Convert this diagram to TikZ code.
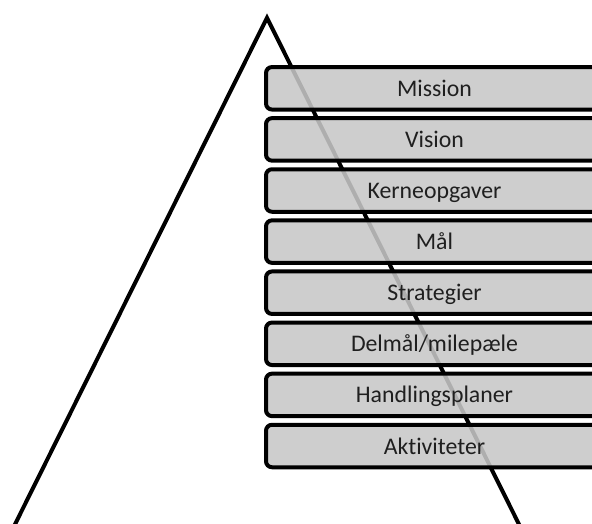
\documentclass[tikz,border=0pt]{standalone}
\usepackage{fontspec}
\setmainfont{Carlito}[Ligatures=NoCommon]
\begin{document}
\begin{tikzpicture}[x=1pt,y=-1pt,
  layer/.style={draw=black, line width=4pt, fill=black!22, fill opacity=0.88, text opacity=1,
    rounded corners=6pt, minimum width=337pt, minimum height=42.5pt, inner sep=0pt,
    text=black!88, font=\fontsize{23.8}{28}\selectfont, text height=21pt, text depth=5pt},
  side/.style={line width=4pt, line join=miter}]
\useasboundingbox (0,0) rectangle (592,523);
\clip (0,0) rectangle (592,523);
\coordinate (apex) at (267,17.8);
\coordinate (bl) at (7.2,540);
\coordinate (br) at (526.8,540);
\draw[side] (bl) -- (apex) -- (br);
\foreach \name/\txt [count=\i from 0] in {mission/Mission, vision/Vision, kerne/Kerneopgaver, maal/Mål, strat/Strategier, delmaal/Delmål\slash milepæle, handl/Handlingsplaner, akt/Aktiviteter}
  \node[layer] (\name) at (434.5,{88.3+51.1*\i}) {\txt};
\end{tikzpicture}
\end{document}
